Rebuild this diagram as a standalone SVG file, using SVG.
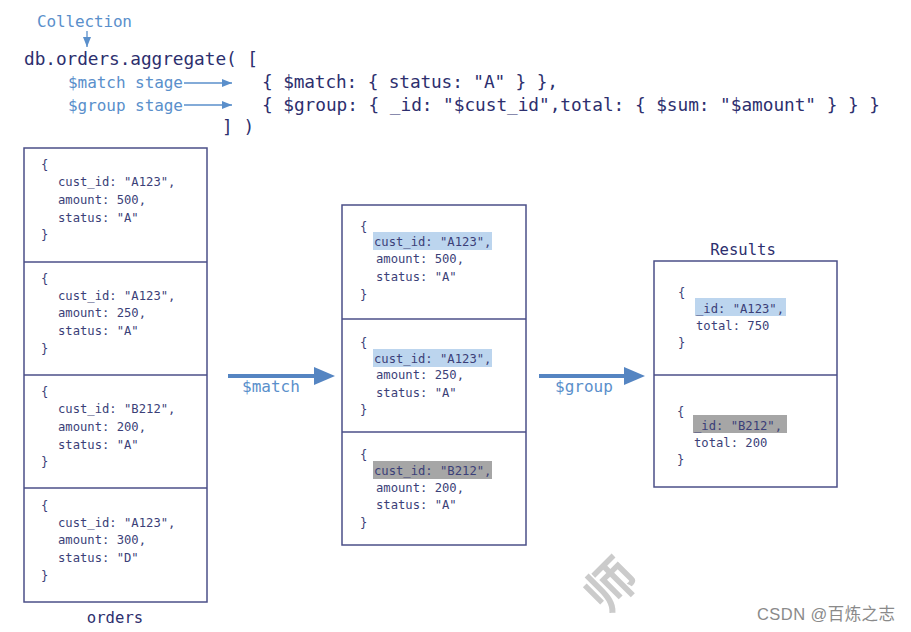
<svg xmlns="http://www.w3.org/2000/svg" width="911" height="632" viewBox="0 0 911 632">
<defs>
<style>
.code{font-family:"DejaVu Sans Mono","Liberation Mono",monospace;fill:#2d2f6e;font-size:17.8px}
.lbl{font-family:"DejaVu Sans Mono","Liberation Mono",monospace;fill:#5a8fcb;font-size:16px}
.doc{font-family:"DejaVu Sans Mono","Liberation Mono",monospace;fill:#3b3f78;font-size:12.2px}
.title{font-family:"DejaVu Sans Mono","Liberation Mono",monospace;fill:#2d2f6e;font-size:15.6px}
.box{fill:#fff;stroke:#4b4f88;stroke-width:1.5}
.div{stroke:#4b4f88;stroke-width:1.5}
.hb{fill:#bcd5ee}
.hg{fill:#a6a6a6}
.thin{stroke:#5a8fcb;stroke-width:1.3;fill:none}
.thick{stroke:#5585c2;stroke-width:4;fill:none}
</style>
<marker id="sa" markerWidth="10" markerHeight="8" refX="10" refY="4" orient="auto" markerUnits="userSpaceOnUse">
<path d="M0,0 L10,4 L0,8 Z" fill="#5a8fcb"/>
</marker>
</defs>
<rect width="911" height="632" fill="#fff"/>

<g id="query">
<text class="lbl" x="37" y="27" textLength="95">Collection</text>
<text class="code" x="24" y="65" textLength="234">db.orders.aggregate( [</text>
<text class="lbl" x="68" y="88" textLength="115">$match stage</text>
<text class="lbl" x="68" y="111" textLength="115">$group stage</text>
<text class="code" x="262" y="88" textLength="296">{ $match: { status: "A" } },</text>
<text class="code" x="262" y="111" textLength="618">{ $group: { _id: "$cust_id",total: { $sum: "$amount" } } }</text>
<text class="code" x="222" y="133">] )</text>
</g>

<g id="connectors">
<line class="thin" x1="87" y1="31" x2="87" y2="47" marker-end="url(#sa)"/>
<line class="thin" x1="184" y1="83" x2="232" y2="83" marker-end="url(#sa)"/>
<line class="thin" x1="184" y1="105" x2="232" y2="105" marker-end="url(#sa)"/>
<line class="thick" x1="228" y1="376" x2="318" y2="376"/>
<path d="M314,367 L335,376 L314,385 Z" fill="#5585c2"/>
<text class="lbl" x="242" y="392" font-size="15.4">$match</text>
<line class="thick" x1="539" y1="376" x2="628" y2="376"/>
<path d="M624,367 L645,376 L624,385 Z" fill="#5585c2"/>
<text class="lbl" x="555" y="392" font-size="15.4">$group</text>
</g>

<g id="orders">
<rect class="box" x="24" y="148" width="183" height="454"/>
<line class="div" x1="24" y1="262" x2="207" y2="262"/>
<line class="div" x1="24" y1="375" x2="207" y2="375"/>
<line class="div" x1="24" y1="488" x2="207" y2="488"/>
<g class="doc">
<text x="41" y="169">{</text>
<text x="58" y="186">cust_id: "A123",</text>
<text x="58" y="203.5">amount: 500,</text>
<text x="58" y="221.5">status: "A"</text>
<text x="41" y="239">}</text>

<text x="41" y="282.5">{</text>
<text x="58" y="299.5">cust_id: "A123",</text>
<text x="58" y="317">amount: 250,</text>
<text x="58" y="335">status: "A"</text>
<text x="41" y="352.5">}</text>

<text x="41" y="396">{</text>
<text x="58" y="413">cust_id: "B212",</text>
<text x="58" y="430.5">amount: 200,</text>
<text x="58" y="448.5">status: "A"</text>
<text x="41" y="466">}</text>

<text x="41" y="509.5">{</text>
<text x="58" y="526.5">cust_id: "A123",</text>
<text x="58" y="544">amount: 300,</text>
<text x="58" y="562">status: "D"</text>
<text x="41" y="579.5">}</text>
</g>
<text class="title" x="115" y="623" text-anchor="middle">orders</text>
</g>

<g id="matched">
<rect class="box" x="342" y="205" width="184" height="340"/>
<line class="div" x1="342" y1="319" x2="526" y2="319"/>
<line class="div" x1="342" y1="432" x2="526" y2="432"/>
<rect class="hb" x="373" y="232" width="119" height="18"/>
<rect class="hb" x="373" y="349" width="119" height="18"/>
<rect class="hg" x="373" y="461" width="119" height="18"/>
<g class="doc">
<text x="360" y="231">{</text>
<text x="374" y="246">cust_id: "A123",</text>
<text x="376" y="263">amount: 500,</text>
<text x="376" y="281">status: "A"</text>
<text x="360" y="299">}</text>

<text x="360" y="347">{</text>
<text x="374" y="363">cust_id: "A123",</text>
<text x="376" y="379">amount: 250,</text>
<text x="376" y="397">status: "A"</text>
<text x="360" y="414">}</text>

<text x="360" y="459">{</text>
<text x="374" y="474.5">cust_id: "B212",</text>
<text x="376" y="491.5">amount: 200,</text>
<text x="376" y="509">status: "A"</text>
<text x="360" y="527">}</text>
</g>
</g>

<g id="results">
<text class="title" x="743" y="255" text-anchor="middle">Results</text>
<rect class="box" x="654" y="261" width="183" height="226"/>
<line class="div" x1="654" y1="375" x2="837" y2="375"/>
<rect class="hb" x="695" y="298" width="91" height="18"/>
<rect class="hg" x="693" y="415" width="94" height="18"/>
<g class="doc">
<text x="678" y="297">{</text>
<text x="696" y="313">_id: "A123",</text>
<text x="696" y="330">total: 750</text>
<text x="678" y="347">}</text>

<text x="677" y="416">{</text>
<text x="694" y="429.5">_id: "B212",</text>
<text x="694" y="446.5">total: 200</text>
<text x="677" y="464">}</text>
</g>
</g>

<g id="watermark">
<text x="612" y="603" font-family="'Noto Sans CJK SC',sans-serif" font-size="50" font-weight="bold" fill="#cbcbcb" text-anchor="middle" transform="rotate(-45 612 586)">师</text>
<text x="757" y="620" font-family="'Liberation Sans','Noto Sans CJK SC',sans-serif" font-size="16.5" fill="#8a8a8a" textLength="138">CSDN @百炼之志</text>
</g>
</svg>
